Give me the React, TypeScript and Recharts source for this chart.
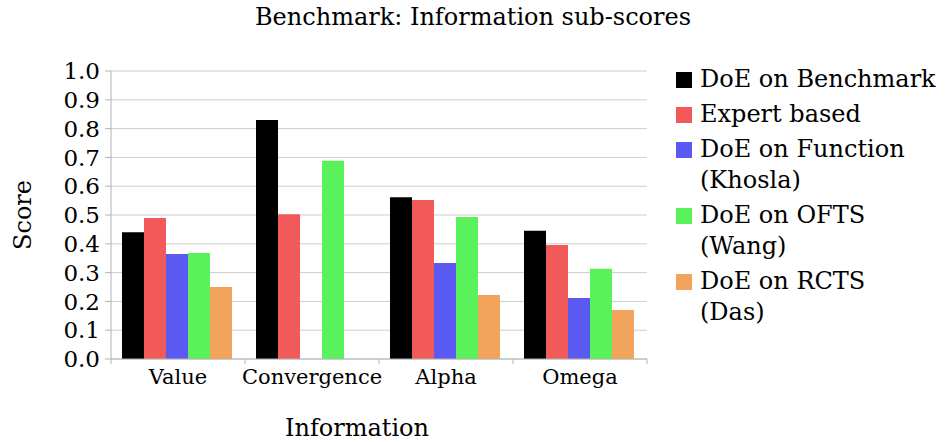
import { BarChart, Bar, XAxis, YAxis, CartesianGrid } from 'recharts'

const categories = ['Value', 'Convergence', 'Alpha', 'Omega']
const doeBenchmark = [0.44, 0.83, 0.562, 0.445]
const expertBased = [0.49, 0.503, 0.552, 0.396]
const doeFunction = [0.365, 0, 0.333, 0.212]
const doeOfts = [0.368, 0.688, 0.493, 0.313]
const doeRcts = [0.25, 0, 0.222, 0.17]
const yTicks = [0, 0.1, 0.2, 0.3, 0.4, 0.5, 0.6, 0.7, 0.8, 0.9, 1.0]

const series = [
  { key: 'bench', label: ['DoE on Benchmark'], color: '#000000', values: doeBenchmark },
  { key: 'expert', label: ['Expert based'], color: '#f25a5a', values: expertBased },
  { key: 'func', label: ['DoE on Function', '(Khosla)'], color: '#5a5af2', values: doeFunction },
  { key: 'ofts', label: ['DoE on OFTS', '(Wang)'], color: '#5af25a', values: doeOfts },
  { key: 'rcts', label: ['DoE on RCTS', '(Das)'], color: '#f2a45c', values: doeRcts },
]

const data = categories.map((name, i) => {
  const row: Record<string, any> = { name }
  series.forEach((s) => { row[s.key] = s.values[i] })
  return row
})

const FONT = 'DejaVu Serif'
const AXIS = '#b4b4b4'
const GRID = '#cdcdcd'

function CategoryTick(props: any) {
  const { x, y, payload, index, visibleTicksCount } = props
  const half = payload.offset ?? 0
  const axisY = y - 10
  return (
    <g>
      <line x1={x - half} x2={x - half} y1={axisY} y2={axisY + 5} stroke={AXIS} />
      {index === visibleTicksCount - 1 && (
        <line x1={x + half} x2={x + half} y1={axisY} y2={axisY + 5} stroke={AXIS} />
      )}
      <text x={x} y={y} dy="0.71em" textAnchor="middle" fontFamily={FONT} fontSize={21} fill="#000">
        {payload.value}
      </text>
    </g>
  )
}

function LegendBox() {
  return (
    <div
      style={{
        position: 'absolute', left: 676, top: 64, fontFamily: FONT, fontSize: 24,
        lineHeight: '31px', color: '#000',
      }}
    >
      {series.map((s) => (
        <div key={s.key} style={{ display: 'flex', alignItems: 'flex-start', marginBottom: 4 }}>
          <div style={{ width: 16, height: 16, background: s.color, marginTop: 8, marginRight: 8, flex: 'none' }} />
          <div>
            {s.label.map((l) => (
              <div key={l} style={{ whiteSpace: 'nowrap' }}>{l}</div>
            ))}
          </div>
        </div>
      ))}
    </div>
  )
}

export default function App() {
  return (
    <div style={{ position: 'absolute', left: 0, top: 0, width: 951, height: 442, background: '#fff' }}>
      <div
        style={{
          position: 'absolute', top: 3, left: 0, width: 946, textAlign: 'center',
          fontFamily: FONT, fontSize: 24, color: '#000',
        }}
      >
        Benchmark: Information sub-scores
      </div>
      <BarChart
        width={951}
        height={442}
        data={data}
        margin={{ top: 71, right: 304, left: 0, bottom: 0 }}
        barCategoryGap={11}
        barGap={0}
      >
        <CartesianGrid vertical={false} stroke={GRID} />
        <XAxis
          dataKey="name"
          height={83}
          stroke={AXIS}
          tickLine={false}
          tickSize={5}
          tickMargin={5}
          tick={<CategoryTick />}
          interval={0}
          label={{ value: 'Information', position: 'insideBottom', offset: 6, dx: -22, fontFamily: FONT, fontSize: 24, fill: '#000' }}
        />
        <YAxis
          width={111}
          domain={[0, 1]}
          ticks={yTicks}
          interval={0}
          stroke={AXIS}
          tickSize={6}
          tickMargin={5}
          tickFormatter={(v: number) => v.toFixed(1)}
          tick={{ fontFamily: FONT, fontSize: 23, fill: '#000' }}
          label={{ value: 'Score', angle: -90, position: 'center', dx: -33, fontFamily: FONT, fontSize: 24, fill: '#000' }}
        />
        <YAxis
          yAxisId="right"
          orientation="right"
          width={0}
          domain={[0, 1]}
          tick={false}
          tickLine={false}
          stroke={AXIS}
        />
        {series.map((s) => (
          <Bar key={s.key} dataKey={s.key} fill={s.color} isAnimationActive={false} />
        ))}
      </BarChart>
      <LegendBox />
    </div>
  )
}
